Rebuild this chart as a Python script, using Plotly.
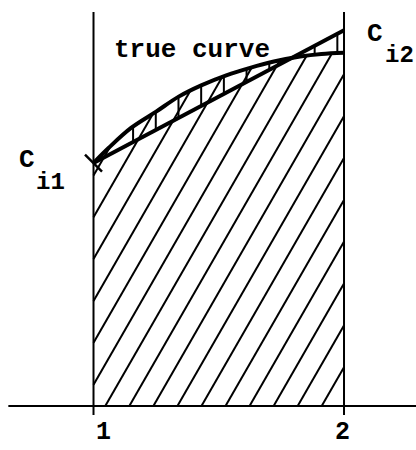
import numpy as np
import plotly.graph_objects as go

# interval end points on the horizontal axis and their labels
tick_values = [1, 2]
tick_labels = ["1", "2"]

# ordinates at the two ends (the trapezoid's straight top runs between them)
c_i1 = 0.97
c_i2 = 1.50

# the true curve across the interval
curve_x = [1.00, 1.06, 1.15, 1.25, 1.34, 1.43, 1.53, 1.625, 1.72, 1.825, 1.91, 2.00]
curve_y = [0.97, 1.03, 1.11, 1.175, 1.235, 1.28, 1.32, 1.35, 1.375, 1.395, 1.405, 1.41]

W, H = 416, 450
X_RANGE = [0.6267, 2.2874]
Y_RANGE = [-0.1756, 1.6208]
INK = "black"
FONT = "Liberation Mono"

x_lo, x_hi = tick_values[0], tick_values[-1]
cx = np.array(curve_x)
cy = np.array(curve_y)


def curve_at(x):
    return np.interp(x, cx, cy)


def chord_at(x):
    return c_i1 + (c_i2 - c_i1) * (x - x_lo) / (x_hi - x_lo)


# diagonal hatching of the area under the true curve
slope = 1.74
step = 0.096
first = 1.047
hx, hy = [], []
b = first
while b - step > x_lo - c_i1 / slope:
    b -= step
while b < x_hi:
    t0 = max(0.0, (x_lo - b) * slope)
    t = np.arange(t0, Y_RANGE[1], 0.0004)
    x = b + t / slope
    ok = (x <= x_hi) & (t <= curve_at(x))
    if ok[0]:
        stop = np.argmin(ok) - 1 if not ok.all() else len(ok) - 1
        hx += [x[0], x[stop], None]
        hy += [t[0], t[stop], None]
    b += step

# vertical hatching of the gap between the curve and the straight top
vx, vy = [], []
xv = 1.158
while xv < x_hi - 0.01:
    a, c = curve_at(xv), chord_at(xv)
    if abs(a - c) > 0.004:
        vx += [xv, xv, None]
        vy += [min(a, c), max(a, c), None]
    xv += 0.0906

fig = go.Figure()

fig.add_trace(go.Scatter(x=hx, y=hy, mode="lines",
                         line=dict(color=INK, width=2), hoverinfo="skip"))
fig.add_trace(go.Scatter(x=vx, y=vy, mode="lines",
                         line=dict(color=INK, width=2), hoverinfo="skip"))

# ordinates at the interval ends, with small ticks below the axis
for v in tick_values:
    fig.add_trace(go.Scatter(x=[v, v], y=[-0.036, 1.573], mode="lines",
                             line=dict(color=INK, width=2), hoverinfo="skip"))

# straight top of the trapezoid
fig.add_trace(go.Scatter(x=[x_lo, x_hi], y=[c_i1, c_i2], mode="lines",
                         line=dict(color=INK, width=4), hoverinfo="skip"))
# true curve
fig.add_trace(go.Scatter(x=curve_x, y=curve_y, mode="lines",
                         line=dict(color=INK, width=4, shape="spline", smoothing=1.0),
                         hoverinfo="skip"))
# cross mark at the starting point
fig.add_trace(go.Scatter(x=[x_lo], y=[c_i1], mode="markers",
                         marker=dict(symbol="line-nw", size=17,
                                     line=dict(color=INK, width=2.5)),
                         hoverinfo="skip"))

# horizontal axis
fig.add_shape(type="line", xref="x", yref="y", x0=0.66, x1=X_RANGE[1], y0=0, y1=0,
              line=dict(color=INK, width=2))

ann = []


def label(text, x, y, dx, dy, size, yanchor="middle"):
    ann.append(dict(text=text, x=x, y=y, xref="x", yref="y", showarrow=False,
                    xanchor="center", yanchor=yanchor, xshift=dx, yshift=dy,
                    font=dict(family=FONT, size=size, color=INK, weight="bold")))


label("true curve", 1.395, 1.42, 0, 0, 26)
label("C", x_lo, c_i1, -67, 3, 26)
label("i1", x_lo, c_i1, -43, -19, 24)
label("C", x_hi, c_i2, 31, -4, 26)
label("i2", x_hi, c_i2, 55, -25, 24)
for v, t, dx in zip(tick_values, tick_labels, [9.5, -2]):
    label(t, v, 0, dx, -43, 25, yanchor="bottom")

fig.update_layout(
    width=W, height=H,
    margin=dict(l=0, r=0, t=0, b=0),
    paper_bgcolor="white", plot_bgcolor="white",
    showlegend=False,
    annotations=ann,
    xaxis=dict(range=X_RANGE, visible=False, fixedrange=True),
    yaxis=dict(range=Y_RANGE, visible=False, fixedrange=True),
)

fig.write_html("out.html", config={"displayModeBar": False})
